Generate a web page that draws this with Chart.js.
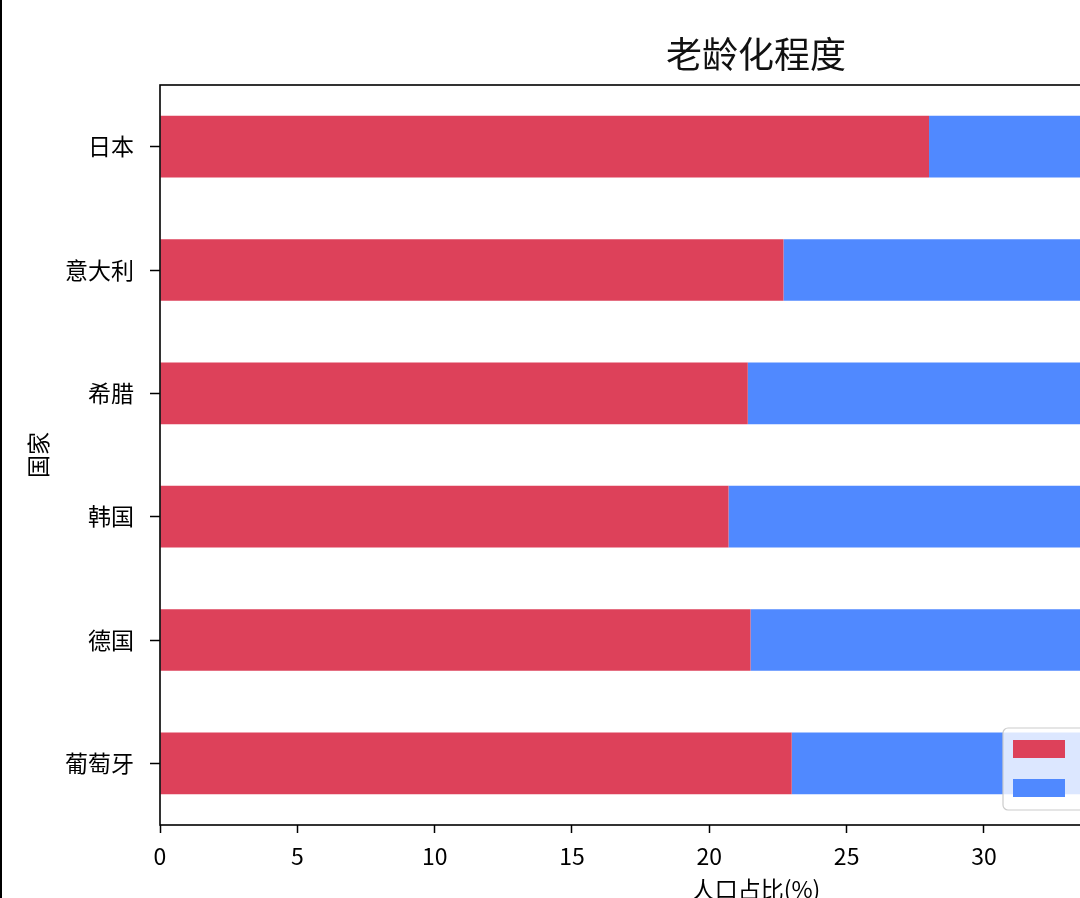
<!DOCTYPE html>
<html lang="zh">
<head>
<meta charset="UTF-8">
<title>老龄化程度</title>
<script src="https://cdn.jsdelivr.net/npm/chart.js@4.4.1/dist/chart.umd.min.js"></script>
<style>
    body{
        margin: 0;
        background-color: white;
    }
    .wrap{
        width: 1080px;
        height: 898px;
        overflow: hidden;
        border-left: 2px solid black;
        box-sizing: border-box;
        position: relative;
    }
    #miCanvas{
        position: absolute;
        left: 0;
        top: 0;
    }
</style>
</head>
<body>
<div class="wrap">
    <canvas id="miCanvas" width="1508" height="910"></canvas>
</div>
<script>
    // data
    const countries = ['日本', '意大利', '希腊', '韩国', '德国', '葡萄牙'];
    const aged65 = [28.0, 22.7, 21.4, 20.7, 21.5, 23.0];
    const restPart = [13.4, 15.8, 16.2, 17.1, 16.9, 14.6];
    const seriesNames = ['65岁及以上人口占比', '其余人口占比'];
    const xTicks = [0, 5, 10, 15, 20, 25, 30, 35, 40];

    const font = '"Noto Sans CJK SC", "Noto Sans", sans-serif';

    // matplotlib style full frame on top of the bars
    const framePlugin = {
        id: 'frame',
        afterDatasetsDraw(chart) {
            const a = chart.chartArea;
            const ctx = chart.ctx;
            ctx.save();
            ctx.strokeStyle = 'black';
            ctx.lineWidth = 1.6;
            ctx.strokeRect(a.left, a.top, a.right - a.left, a.bottom - a.top);
            ctx.restore();
        }
    };

    // legend inside the axes, lower right
    const boxLegend = {
        id: 'boxLegend',
        afterDraw(chart) {
            const a = chart.chartArea;
            const ctx = chart.ctx;
            const w = 339, h = 82;
            const right = a.right - 10, bottom = a.bottom - 15;
            const left = right - w, top = bottom - h;
            ctx.save();
            ctx.beginPath();
            ctx.roundRect(left, top, w, h, 5);
            ctx.fillStyle = 'rgba(255,255,255,0.8)';
            ctx.fill();
            ctx.strokeStyle = '#cccccc';
            ctx.lineWidth = 1.2;
            ctx.stroke();
            chart.data.datasets.forEach((ds, i) => {
                const py = top + 12 + i * 39;
                ctx.fillStyle = ds.backgroundColor;
                ctx.fillRect(left + 10, py, 52, 18);
                ctx.fillStyle = 'black';
                ctx.font = '23px ' + font;
                ctx.textBaseline = 'middle';
                ctx.fillText(ds.label, left + 78, py + 9);
            });
            ctx.restore();
        }
    };

    const ctx = document.getElementById('miCanvas').getContext('2d');
    new Chart(ctx, {
        type: 'bar',
        data: {
            labels: countries,
            datasets: [
                {
                    label: seriesNames[0],
                    data: aged65,
                    backgroundColor: '#dd415a',
                    barPercentage: 0.5,
                    categoryPercentage: 1.0
                },
                {
                    label: seriesNames[1],
                    data: restPart,
                    backgroundColor: '#5089ff',
                    barPercentage: 0.5,
                    categoryPercentage: 1.0
                }
            ]
        },
        options: {
            indexAxis: 'y',
            responsive: false,
            animation: false,
            layout: { padding: 0 },
            plugins: {
                legend: { display: false },
                tooltip: { enabled: false },
                title: {
                    display: true,
                    text: '老龄化程度',
                    color: '#111',
                    font: { family: font, size: 36, weight: 'normal' },
                    padding: { top: 33, bottom: 8.8 }
                }
            },
            scales: {
                x: {
                    stacked: true,
                    min: 0,
                    max: 43.4,
                    afterBuildTicks: (scale) => {
                        scale.ticks = xTicks.map(v => ({ value: v }));
                    },
                    afterFit: (scale) => { scale.height = 85; },
                    border: { display: false },
                    grid: {
                        drawOnChartArea: false,
                        drawTicks: true,
                        tickLength: 8,
                        tickColor: 'black',
                        tickWidth: 1.5
                    },
                    ticks: {
                        color: 'black',
                        padding: 9,
                        maxRotation: 0,
                        font: { family: font, size: 23 }
                    },
                    title: {
                        display: true,
                        text: '人口占比(%)',
                        color: 'black',
                        font: { family: font, size: 23 },
                        padding: { top: 0, bottom: 7 }
                    }
                },
                y: {
                    stacked: true,
                    afterFit: (scale) => { scale.width = 158; },
                    border: { display: false },
                    grid: {
                        offset: false,
                        drawOnChartArea: false,
                        drawTicks: true,
                        tickLength: 10,
                        tickColor: 'black',
                        tickWidth: 1.5
                    },
                    ticks: {
                        color: 'black',
                        padding: 16,
                        font: { family: font, size: 23 }
                    },
                    title: {
                        display: true,
                        text: '国家',
                        color: 'black',
                        font: { family: font, size: 23 },
                        padding: { top: 22, bottom: 0 }
                    }
                },
                // empty right-hand margin so the title sits over the middle of the axes
                yRight: {
                    type: 'category',
                    position: 'right',
                    afterFit: (scale) => { scale.width = 158; },
                    border: { display: false },
                    grid: { display: false },
                    ticks: { display: false }
                }
            }
        },
        plugins: [framePlugin, boxLegend]
    });
</script>
</body>
</html>
